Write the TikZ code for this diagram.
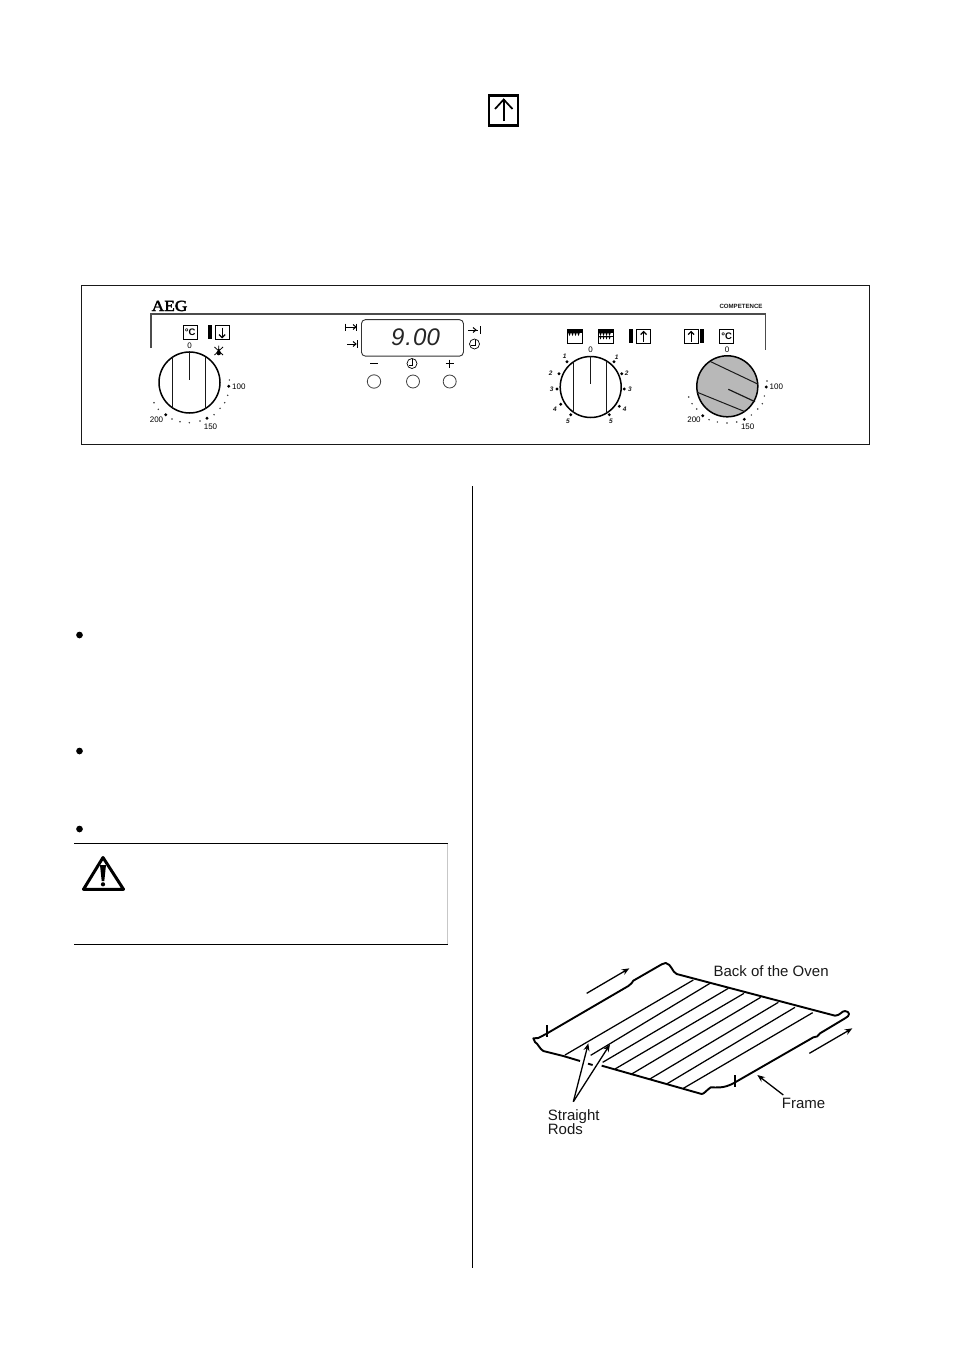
\documentclass[tikz,border=0pt]{standalone}
\usepackage{fontspec}
\setmainfont{Liberation Sans}
\newfontfamily\aegfont[FakeBold=2.5]{Liberation Serif}
\usetikzlibrary{arrows.meta}
\definecolor{ink}{gray}{0.1}
\tikzset{
 x=1pt,y=-1pt,
 panel/.style={draw=ink,line width=1.1pt},
 dial/.style={draw=black,line width=1.5pt,fill=white},
 dialline/.style={draw=ink,line width=0.8pt},
 needle/.style={draw=ink,line width=1.2pt},
 bigdot/.style={fill=black,draw=none,circle,minimum size=3.2pt,inner sep=0pt},
 smalldot/.style={fill=black!80,draw=none,circle,minimum size=1.6pt,inner sep=0pt},
 scalelbl/.style={font=\fontsize{8}{9}\selectfont,inner sep=0pt,text=black},
 numlbl/.style={font=\fontsize{6.5}{7}\selectfont\itshape\bfseries,inner sep=0pt,text=ink},
 iconbox/.style={draw=black,line width=1.2pt,fill=white},
 thin icon/.style={draw=black,line width=1pt},
 keybtn/.style={draw=black!75,line width=0.8pt},
 rackline/.style={draw=black,line width=1.9pt,line join=round},
 rodline/.style={draw=black,line width=1.25pt},
 pointer/.style={draw=black,line width=1.3pt,-{Stealth[length=7.5pt,width=6pt]}},
 racklbl/.style={font=\fontsize{15}{16}\selectfont,inner sep=0pt,text=ink},
 rule/.style={draw=black,line width=1.1pt},
 bullet/.style={fill=black,circle,minimum size=6.7pt,inner sep=0pt,draw=none},
}
\newcommand{\degbox}[3]{% name,x,y(top-left)
 \node[iconbox,minimum width=14pt,minimum height=14pt,inner sep=0pt,anchor=north west,
   font=\fontsize{9.5}{10}\selectfont\bfseries] (#1) at (#2,#3) {°C};}
\newcommand{\arrbox}[4]{% name,x,y,dir(+1 up,-1 down)
 \node[iconbox,minimum width=14pt,minimum height=14pt,inner sep=0pt,anchor=north west] (#1) at (#2,#3) {};
 \draw[thin icon,line width=1.2pt] ([yshift=-#4*5pt]#1.center) -- ([yshift=#4*5pt]#1.center);
 \draw[thin icon,line width=1.2pt] ([xshift=-3pt,yshift=#4*2pt]#1.center) -- ([yshift=#4*5pt]#1.center) -- ([xshift=3pt,yshift=#4*2pt]#1.center);}
\newcommand{\clockicon}[2]{%
 \draw[thin icon,line width=0.7pt] (#1,#2) circle[radius=5];
 \draw[thin icon,line width=0.7pt] (#1+0.5,#2-4.5) -- (#1+0.5,#2+1.5) -- (#1-3.5,#2+1.5);}
\begin{document}
\begin{tikzpicture}
\useasboundingbox (0,0) rectangle (954,1351);
\fill[white] (0,0) rectangle (954,1351);

% large arrow symbol
\node[draw=black,line width=2.4pt,minimum width=29pt,minimum height=30pt,inner sep=0pt] (upsym) at (503.7,110.5) {};
\draw[black,line width=1.7pt] ([yshift=-11pt]upsym.center) -- ([yshift=11pt]upsym.center);
\draw[black,line width=1.7pt] (495,109) -- ([yshift=11pt]upsym.center) -- (512.5,109);

% panel
\node[panel,minimum width=787.5pt,minimum height=159pt,inner sep=0pt,anchor=north west] (panelbox) at (81.3,285) {};
\coordinate (brA) at (151,348);
\coordinate (brB) at (151,314);
\coordinate (brC) at (765.5,314);
\coordinate (brD) at (765.5,350);
\draw[draw=black!70,line width=1.1pt] (brA) -- (brB) -- (brC) -- (brD);
\node[inner sep=0pt,anchor=base west,xscale=1.12,font=\aegfont\fontsize{15.5}{17}\selectfont] (aeg) at (151.5,311) {AEG};
\node[inner sep=0pt,anchor=base west,font=\fontsize{6.1}{7}\selectfont\bfseries,text=ink] (comp) at (719.3,308.7) {COMPETENCE};

% left dial
\degbox{dl}{182.5}{325}
\fill[black] (208.3,325) rectangle (212,339);
\arrbox{dr}{214.5}{325}{-1}
\node[scalelbl] (lzero) at (189.5,346) {0};
\draw[black,line width=0.8pt] (214.5,347)--(223,355) (223,347)--(214.5,355) (218.7,345.5)--(218.7,352);
\fill[black] (218.7,353) circle[radius=2.3];
\fill[black] (218.7,349.7) circle[radius=1.2];
\node[dial,circle,minimum size=61pt,inner sep=0pt] (ldial) at (189.5,382.5) {};
\draw[dialline] (172.3,356.5) -- (172.3,408.5);
\draw[dialline] (205.3,356.5) -- (205.3,408.5);
\draw[needle] (ldial.north) -- (189.5,379.5);
\foreach \i/\px/\py in {1/229.3/380,2/227.7/395.3,3/224.7/402.7,4/220/408.3,5/214/414.7,6/200/421,7/189.3/422.7,8/180/421.7,9/172/419,10/154/402.7,11/158.3/409.3}
  \node[smalldot] (ls\i) at (\px,\py) {};
\node[bigdot] (lb1) at (228.7,386.3) {};
\node[bigdot] (lb2) at (207,418.3) {};
\node[bigdot] (lb3) at (165.7,414.7) {};
\node[scalelbl,anchor=west] (l100) at (232,386.7) {100};
\node[scalelbl] (l150) at (210.5,426.7) {150};
\node[scalelbl] (l200) at (156.5,420) {200};

% timer
\node[draw=black!80,line width=0.9pt,rounded corners=4pt,minimum width=102pt,minimum height=36.5pt,inner sep=0pt,anchor=north west] (display) at (361,319.2) {};
\node[inner sep=0pt,font=\fontsize{24}{24}\selectfont\itshape,text=black!85] (dig) at (415.5,337) {9\kern1pt.\kern1pt00};
\draw[thin icon] (345.5,323.5)--(345.5,330.5) (345.5,327)--(356,327) (356.5,323.5)--(356.5,330.5);
\draw[thin icon] (353,324.5)--(356,327)--(353,329.5);
\draw[thin icon] (347,344)--(356,344) (357,340)--(357,348);
\draw[thin icon] (353,341.5)--(356,344)--(353,346.5);
\draw[thin icon] (468,330)--(478,330) (480,326)--(480,334);
\draw[thin icon] (473,327.5)--(476,330)--(473,332.5);
\clockicon{474.5}{344}
\draw[thin icon,line width=0.8pt] (370,363.5)--(378,363.5);
\draw[thin icon,line width=1pt] (445.5,363.5)--(453.5,363.5) (449.5,359.5)--(449.5,367.5);
\clockicon{412}{363.5}
\node[keybtn,circle,minimum size=13.4pt,inner sep=0pt] (k1) at (374,381.5) {};
\node[keybtn,circle,minimum size=13pt,inner sep=0pt] (k2) at (413,381.5) {};
\node[keybtn,circle,minimum size=13pt,inner sep=0pt] (k3) at (449.7,381.5) {};

% middle dial
\foreach \bx/\nm in {567/a,598/b}{
 \node[draw=black,line width=1.2pt,minimum width=14.5pt,minimum height=13.5pt,inner sep=0pt,anchor=north west] (ov\nm) at (\bx,329) {};
 \fill[black] (\bx,329) rectangle ++(14.5,3.5);
}
\foreach \tx in {569.5,572.5,575.5,578.5}{\fill[black] (\tx-1.4,332.5)--(\tx+1.4,332.5)--(\tx,336)--cycle;}
\foreach \tx in {600.5,603.5,606.5,609.5}{
 \fill[black] (\tx-1.4,332.5)--(\tx+1.4,332.5)--(\tx,336)--cycle;
 \fill[black] (\tx-1.2,336.5)--(\tx+1.2,336.5)--(\tx,339.5)--cycle;}
\fill[black] (598,336.2) rectangle ++(14.5,0.8);
\fill[black] (629,329) rectangle (633,343);
\arrbox{mr}{636}{329}{1}
\node[scalelbl] (mzero) at (590.7,350) {0};
\node[dial,circle,minimum size=61pt,inner sep=0pt] (mdial) at (590.7,387) {};
\draw[dialline] (573.7,361) -- (573.7,413);
\draw[dialline] (606.7,361) -- (606.7,413);
\draw[needle] (mdial.north) -- (590.7,384);
\foreach \i/\dx/\dy/\lx/\ly/\t in {
 1/614/361.7/616.7/357.3/1,2/621.7/373.7/626.7/373/2,3/624.3/389/630/389.5/3,4/619.3/406.3/624.7/409/4,5/609.3/414.7/611/421.3/5,
 6/567/361.7/564.7/356.7/1,7/559/373.7/550.7/373/2,8/557/389/551.7/389.5/3,9/560.7/404.3/555/409/4,10/570.7/414.7/568/421.3/5}{
 \node[bigdot] (md\i) at (\dx,\dy) {};
 \node[numlbl] (ml\i) at (\lx,\ly) {\t};
}

% right dial
\arrbox{rr}{683.5}{329}{1}
\fill[black] (700,329) rectangle (703.7,342.5);
\degbox{rd}{719}{329}
\node[scalelbl] (rzero) at (727,349.7) {0};
\node[dial,fill=black!28,circle,minimum size=61pt,inner sep=0pt] (rdial) at (727.3,386.3) {};
\draw[dialline,line width=1pt] (710.7,361.7) -- (758.3,384.3);
\draw[dialline,line width=1pt] (697.3,392.3) -- (745,411.7);
\draw[needle] (728.3,389.3) -- (755,401.7);
\foreach \i/\px/\py in {1/767/381,2/764.3/396,3/762.3/403.7,4/757.7/409,5/751.3/415,6/736.7/422,7/727/423,8/717.3/422,9/709/419.7,10/688.7/397,11/692/403.7,12/696.7/409}
  \node[smalldot] (rs\i) at (\px,\py) {};
\node[bigdot] (rb1) at (766.3,387) {};
\node[bigdot] (rb2) at (744.3,419.3) {};
\node[bigdot] (rb3) at (702.7,415.7) {};
\node[scalelbl,anchor=west] (r100) at (769.5,387.2) {100};
\node[scalelbl] (r150) at (747.7,427) {150};
\node[scalelbl] (r200) at (694,420) {200};

% column rule
\coordinate (colT) at (472.8,486);
\coordinate (colB) at (472.8,1268);
\draw[black,line width=1.1pt] (colT) -- (colB);

% bullets
\node[bullet] (b1) at (79.5,635) {};
\node[bullet] (b2) at (79.5,751) {};
\node[bullet] (b3) at (79.5,829) {};

% warning box
\coordinate (wTL) at (74,843.5);
\coordinate (wTR) at (447.5,843.5);
\coordinate (wBL) at (74,944.3);
\coordinate (wBR) at (447.5,944.3);
\draw[rule] (wTL) -- (wTR);
\draw[rule] (wBL) -- (wBR);
\draw[black!22,line width=0.7pt] (wTR) -- (wBR);
\draw[black,line width=3pt,line join=round] (103,857.5) -- (83.5,889.3) -- (123.5,889.3) -- cycle;
\fill[black] (100,865) -- (106,865) -- (104.3,881) -- (101.7,881) -- cycle;
\fill[black] (103,884.3) circle[radius=2.1];

% rack
\begin{scope}[shift={(520pt,-950pt)},x=0.33333pt,y=-0.33333pt]
 \draw[rackline] (78,252) -- (55,264) -- (40,265) -- (45,276) .. controls (55,282) and (58,296) .. (70,303) -- (130,318) -- (180,333);
 \draw[rackline] (204,341) -- (218,345);
 \draw[rackline] (245,347) -- (545,432) .. controls (552,432) and (558,422) .. (572,412) .. controls (590,412) and (610,416) .. (640,400) -- (880,262) .. controls (890,262) and (895,258) .. (900,250) -- (975,205) .. controls (992,197) and (990,185) .. (975,183) .. controls (965,183) and (960,197) .. (945,197) -- (470,72) .. controls (455,65) and (455,42) .. (437,39) .. controls (432,39) and (430,40) .. (425,43) -- (340,92) .. controls (335,95) and (335,105) .. (325,108) -- (78,252);
 \draw[rackline] (82,225) -- (82,262);
 \draw[rackline] (645,375) -- (645,410);
 \foreach \a/\b/\c/\d in {135/315/520/90, 212/316/570/100, 248/337/625/115, 285/357/672/130, 335/372/722/142, 388/388/775/157, 440/402/825/172, 490/415/878/188}
   \draw[rodline] (\a,\b) -- (\c,\d);
 \coordinate (fa1) at (200,130); \coordinate (fa2) at (328,55);
 \coordinate (fb1) at (868,310); \coordinate (fb2) at (997,235);
 \draw[pointer] (fa1) -- (fa2);
 \draw[pointer] (fb1) -- (fb2);
 \node[racklbl,anchor=base west] (back) at (580,78) {Back of the Oven};
 \node[racklbl,anchor=base west] (frame) at (785,474) {Frame};
 \node[racklbl,anchor=base west] (str) at (83,510) {Straight};
 \node[racklbl,anchor=base west] (rods) at (83,553) {Rods};
 \coordinate (fc1) at (790,435); \coordinate (fc2) at (712,375);
 \coordinate (sa) at (205,280); \coordinate (sb) at (270,283); \coordinate (sf) at (160,455);
 \draw[pointer] (fc1) -- (fc2);
 \draw[pointer] (sf) -- (sa);
 \draw[pointer] (sf) -- (sb);
\end{scope}
\end{tikzpicture}
\end{document}
